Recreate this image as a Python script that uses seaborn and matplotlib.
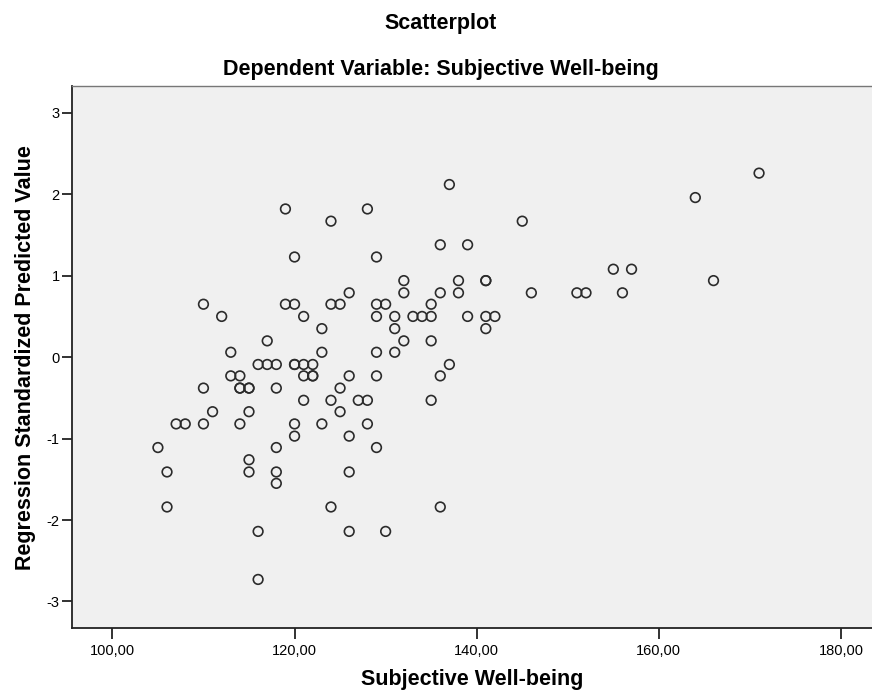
import matplotlib
matplotlib.use("Agg")
import matplotlib.pyplot as plt
import seaborn as sns
import pandas as pd

# Subjective Well-being (observed)
well_being = [
    119, 124, 120, 110, 112, 119, 120, 124, 125, 121, 123, 117, 113, 123,
    116, 117, 118, 120, 120, 121, 122,
    113, 114, 121, 122, 122,
    110, 114, 114, 115, 115, 118, 125,
    121, 124, 125, 111, 115,
    107, 108, 110, 114, 120, 123,
    120, 105, 118, 115, 106, 115, 118, 118, 106, 124, 116, 116,
    137, 128, 145, 136, 139, 129, 132, 138, 141, 141,
    126, 132, 136, 138, 146, 151, 152,
    129, 130, 135,
    129, 131, 133, 134, 135, 139, 141, 142,
    131, 141, 132, 135, 129, 131, 137,
    126, 129, 136, 127, 128, 135, 128, 126, 129, 126, 136, 126, 130,
    171, 164, 155, 157, 166, 156,
]

# Regression standardized predicted value
predicted = [
    1.82, 1.67, 1.23, 0.65, 0.50, 0.65, 0.65, 0.65, 0.65, 0.50, 0.35, 0.20, 0.06, 0.06,
    -0.09, -0.09, -0.09, -0.09, -0.09, -0.09, -0.09,
    -0.23, -0.23, -0.23, -0.23, -0.23,
    -0.38, -0.38, -0.38, -0.38, -0.38, -0.38, -0.38,
    -0.53, -0.53, -0.67, -0.67, -0.67,
    -0.82, -0.82, -0.82, -0.82, -0.82, -0.82,
    -0.97, -1.11, -1.11, -1.26, -1.41, -1.41, -1.41, -1.55, -1.84, -1.84, -2.14, -2.73,
    2.12, 1.82, 1.67, 1.38, 1.38, 1.23, 0.94, 0.94, 0.94, 0.94,
    0.79, 0.79, 0.79, 0.79, 0.79, 0.79, 0.79,
    0.65, 0.65, 0.65,
    0.50, 0.50, 0.50, 0.50, 0.50, 0.50, 0.50, 0.50,
    0.35, 0.35, 0.20, 0.20, 0.06, 0.06, -0.09,
    -0.23, -0.23, -0.23, -0.53, -0.53, -0.53, -0.82, -0.97, -1.11, -1.41, -1.84, -2.14, -2.14,
    2.26, 1.96, 1.08, 1.08, 0.94, 0.79,
]

x_ticks = [100, 120, 140, 160, 180]
x_tick_labels = ["100,00", "120,00", "140,00", "160,00", "180,00"]
y_ticks = [-3, -2, -1, 0, 1, 2, 3]
y_tick_labels = ["-3", "-2", "-1", "0", "1", "2", "3"]

df = pd.DataFrame({"Subjective Well-being": well_being,
                   "Regression Standardized Predicted Value": predicted})

sns.set_theme(style="white")
plt.rcParams["font.family"] = ["Liberation Sans", "DejaVu Sans"]
plt.rcParams["text.color"] = "black"

W, H = 872, 696
fig = plt.figure(figsize=(W / 100, H / 100), dpi=100)
left, right, top, bottom = 72.3, 872, 86.0, 628.3
ax = fig.add_axes([left / W, 1 - bottom / H, (right - left) / W, (bottom - top) / H])
ax.set_facecolor("#F0F0F0")

sns.scatterplot(data=df, x="Subjective Well-being",
                y="Regression Standardized Predicted Value",
                ax=ax, marker="o", s=48, linewidth=1.2,
                facecolor="none", edgecolor="#2b2b2b", zorder=3)
for c in ax.collections:
    c.set_facecolor("none")
    c.set_edgecolor("#2b2b2b")

ax.set_xlim(95.6, 183.4)
ax.set_ylim(-3.33, 3.33)
ax.set_xticks(x_ticks)
ax.set_xticklabels(x_tick_labels)
ax.set_yticks(y_ticks)
ax.set_yticklabels(y_tick_labels)
ax.tick_params(axis="both", direction="out", width=1.3, color="#222222",
               labelsize=10.5, labelcolor="black", left=True, bottom=True)
ax.tick_params(axis="y", length=7, pad=2)
ax.tick_params(axis="x", length=8, pad=3)

for side in ["left", "bottom"]:
    ax.spines[side].set_color("#222222")
    ax.spines[side].set_linewidth(1.3)
ax.spines["top"].set_color("#777777")
ax.spines["top"].set_linewidth(1.0)
ax.spines["right"].set_visible(False)

ax.set_xlabel("Subjective Well-being", fontsize=15.5, fontweight="bold",
              labelpad=8, color="black")
ax.set_ylabel("Regression Standardized Predicted Value", fontsize=15.5,
              fontweight="bold", labelpad=8, color="black")

fig.text(441 / W, 1 - 24 / H, "Scatterplot", ha="center", va="center",
         fontsize=15.5, fontweight="bold", color="black")
fig.text(441 / W, 1 - 69 / H, "Dependent Variable: Subjective Well-being",
         ha="center", va="center", fontsize=15.5, fontweight="bold", color="black")

fig.savefig("out.png", dpi=100, facecolor="white")
